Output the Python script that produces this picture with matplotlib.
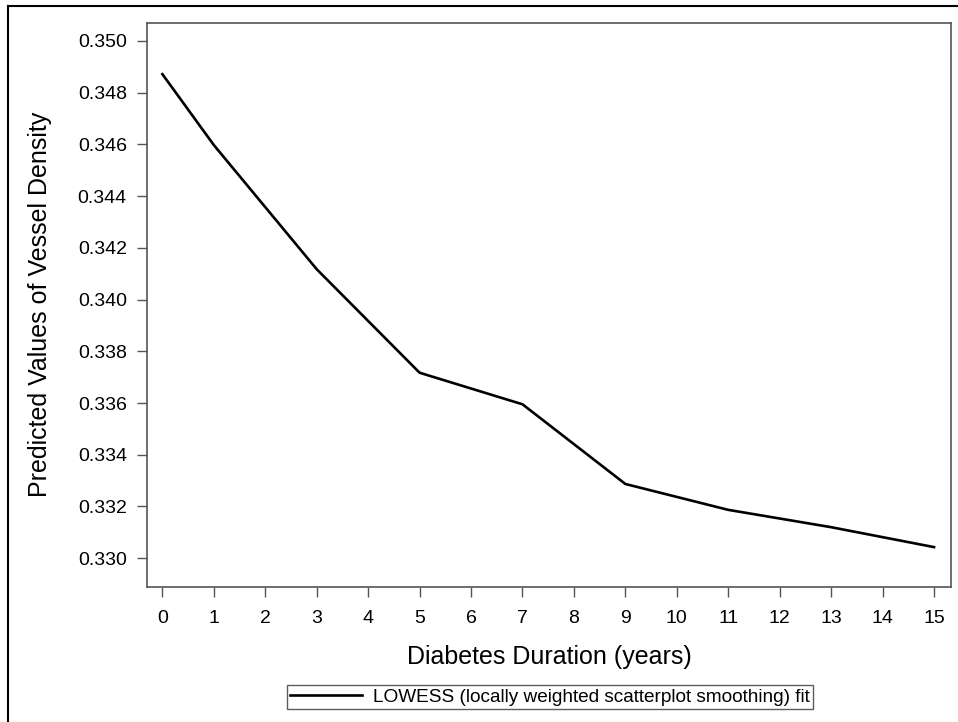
import matplotlib
matplotlib.use("Agg")
import matplotlib.pyplot as plt
from matplotlib.lines import Line2D

plt.rcParams['font.family'] = ['Liberation Sans', 'DejaVu Sans']

# LOWESS fit
duracion = [0, 1, 3, 5, 7, 9, 11, 13, 15]
densidad = [0.34871, 0.34597, 0.34117, 0.33717, 0.33595, 0.33287, 0.33187, 0.33120, 0.33043]
xticks = list(range(0, 16))
yticks = [0.330, 0.332, 0.334, 0.336, 0.338, 0.340, 0.342, 0.344, 0.346, 0.348, 0.350]

fig = plt.figure(figsize=(9.58, 7.22), dpi=100)
ax = fig.add_axes([0.1534, 0.1874, 0.8393, 0.7812])

ax.plot(duracion, densidad, color="black", lw=1.9,
        label="LOWESS (locally weighted scatterplot smoothing) fit")

ax.set_xlim(-0.30, 15.33)
ax.set_ylim(0.32890, 0.35070)
ax.set_xticks(xticks)
ax.set_yticks(yticks)
ax.set_yticklabels([f"{v:.3f}" for v in yticks])
ax.tick_params(direction="out", length=7, width=1, color="#555555", labelsize=14)
ax.tick_params(axis="x", pad=9.5)
ax.tick_params(axis="y", pad=7.5)

for s in ax.spines.values():
    s.set_color("#555555")
    s.set_linewidth(1.2)

ax.set_xlabel("Diabetes Duration (years)", fontsize=18)
ax.set_ylabel("Predicted Values of Vessel Density", fontsize=18)
ax.xaxis.set_label_coords(0.5, -0.103)
ax.yaxis.set_label_coords(-0.118, 0.5)

leg = fig.legend(loc="center", bbox_to_anchor=(550 / 958, 1 - 697 / 722),
                 fontsize=13.7, handlelength=3.8, frameon=True, fancybox=False,
                 borderpad=0.15, handletextpad=0.58, borderaxespad=0)
leg.get_frame().set_edgecolor("#333333")
leg.get_frame().set_linewidth(1.0)

# outer border (top and left only)
fig.add_artist(Line2D([8 / 958, 1], [1 - 6 / 722, 1 - 6 / 722], color="black", lw=1.5,
                      transform=fig.transFigure))
fig.add_artist(Line2D([8 / 958, 8 / 958], [0, 1 - 6 / 722], color="black", lw=1.5,
                      transform=fig.transFigure))

fig.savefig("out.png", dpi=100)
